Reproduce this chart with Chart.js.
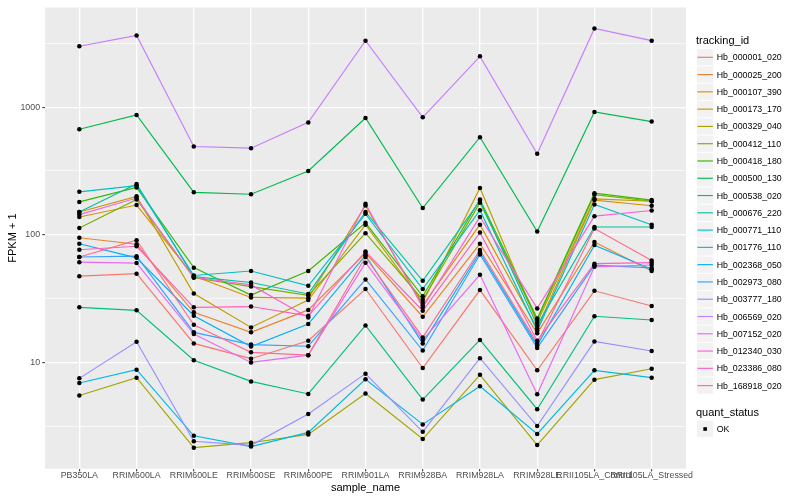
<!DOCTYPE html>
<html><head><meta charset="utf-8">
<script src="https://cdn.jsdelivr.net/npm/chart.js@4/dist/chart.umd.min.js"></script>
<style>
html,body{margin:0;padding:0;background:#fff;}
#wrap{position:relative;width:800px;height:500px;font-family:"Liberation Sans",Arial,sans-serif;overflow:hidden;}
canvas{position:absolute;left:0;top:0;}
#keys{position:absolute;left:0;top:0;}
.lg-title{position:absolute;font-size:11px;color:#000;line-height:13px;white-space:nowrap;}
.lg-label{position:absolute;font-size:8.8px;color:#000;line-height:10px;white-space:nowrap;}
</style></head>
<body><div id="wrap"><canvas id="c" width="800" height="500"></canvas>
<svg id="keys" width="800" height="500" xmlns="http://www.w3.org/2000/svg"></svg>
<div id="legend"></div></div>
<script>
// ---- data ----
const categories = ['PB350LA','RRIM600LA','RRIM600LE','RRIM600SE','RRIM600PE','RRIM901LA','RRIM928BA','RRIM928LA','RRIM928LE','RRII105LA_Control','RRII105LA_Stressed'];
const trackingIds = ['Hb_000001_020','Hb_000025_200','Hb_000107_390','Hb_000173_170','Hb_000329_040','Hb_000412_110','Hb_000418_180','Hb_000500_130','Hb_000538_020','Hb_000676_220','Hb_000771_110','Hb_001776_110','Hb_002368_050','Hb_002973_080','Hb_003777_180','Hb_006569_020','Hb_007152_020','Hb_012340_030','Hb_023386_080','Hb_168918_020'];
const Hb_000001_020 = [47.4, 49.6, 14.1, 10.7, 14.8, 37.6, 9.03, 36.9, 8.67, 36.4, 27.7];
const Hb_000025_200 = [94.8, 84.3, 24.7, 17.2, 25.8, 72, 22.8, 85, 16.9, 88, 52];
const Hb_000107_390 = [138, 171, 47.5, 32.3, 31.9, 170, 28, 120, 18.5, 187, 169];
const Hb_000173_170 = [151, 200, 34.7, 18.8, 30.8, 120, 29.5, 233, 20.5, 191, 183];
const Hb_000329_040 = [5.5, 7.6, 2.15, 2.35, 2.73, 5.7, 2.51, 8.0, 2.25, 7.33, 8.93];
const Hb_000412_110 = [113, 189, 46, 39.3, 33.5, 103, 31, 178, 21.5, 206, 183];
const Hb_000418_180 = [181, 235, 55.3, 33.7, 52, 124, 33, 189, 22.1, 212, 187];
const Hb_000500_130 = [671, 869, 215, 208, 316, 823, 162, 582, 106, 917, 771];
const Hb_000538_020 = [27, 25.6, 10.4, 7.1, 5.66, 19.5, 5.12, 15, 4.3, 23, 21.5];
const Hb_000676_220 = [151, 250, 47, 42.3, 34.4, 151, 43.6, 185, 19.5, 115, 115];
const Hb_000771_110 = [217, 243, 48, 52, 39.8, 146, 37.6, 156, 17.7, 173, 120];
const Hb_001776_110 = [6.9, 8.77, 2.66, 2.19, 2.83, 7.37, 3.27, 6.5, 2.75, 8.67, 7.6];
const Hb_002368_050 = [85, 66, 23.2, 13.3, 20, 69, 14.1, 73, 13.6, 83, 53.7];
const Hb_002973_080 = [67, 68, 17.2, 13.8, 13.4, 44.7, 12.4, 70, 13, 57.8, 55];
const Hb_003777_180 = [7.5, 14.5, 2.41, 2.24, 3.95, 8.17, 2.86, 10.8, 3.17, 14.6, 12.3];
const Hb_006569_020 = [3000, 3650, 492, 477, 760, 3320, 832, 2500, 432, 4140, 3320];
const Hb_007152_020 = [61, 60, 16.7, 10, 11.4, 60.5, 15, 48.6, 5.63, 56.1, 58];
const Hb_012340_030 = [144, 194, 46.5, 40.5, 22.5, 175, 27, 138, 26.5, 140, 155];
const Hb_023386_080 = [76.4, 81.3, 27, 27.4, 23.2, 74, 25.4, 104, 14.8, 59.4, 60.5];
const Hb_168918_020 = [67, 90.6, 19.7, 12, 11.4, 67, 15.7, 76, 14.2, 112, 63];
const seriesValues = [Hb_000001_020,Hb_000025_200,Hb_000107_390,Hb_000173_170,Hb_000329_040,Hb_000412_110,Hb_000418_180,Hb_000500_130,Hb_000538_020,Hb_000676_220,Hb_000771_110,Hb_001776_110,Hb_002368_050,Hb_002973_080,Hb_003777_180,Hb_006569_020,Hb_007152_020,Hb_012340_030,Hb_023386_080,Hb_168918_020];
const quantStatus = ['OK'];
const yTickValues = [10, 100, 1000];
const yTickLabels = ['10', '100', '1000'];
const yMinorBreaks = [3.1623, 31.623, 316.23, 3162.3];

// ---- styles ----
const palette = ['#F8766D','#EA8331','#D89000','#C09B00','#A3A500','#7CAE00','#39B600','#00BB4E','#00BF7D','#00C1A3','#00BFC4','#00BAE0','#00B0F6','#35A2FF','#9590FF','#C77CFF','#E76BF3','#FA62DB','#FF62BC','#FF6C91'];
const FONT = '"Liberation Sans", Arial, sans-serif';

const toPts = arr => arr.map((v, j) => ({x: j, y: v}));
const lineSets = trackingIds.map((id, i) => ({
  label: id, data: toPts(seriesValues[i]), borderColor: palette[i], backgroundColor: palette[i],
  borderWidth: 1.15, pointRadius: 0, pointHoverRadius: 0, fill: false, tension: 0, order: 100 - i
}));
const pointSets = trackingIds.map((id, i) => ({
  label: id + ' ' + quantStatus[0], data: toPts(seriesValues[i]), showLine: false,
  pointRadius: 2.25, pointHoverRadius: 2.25, pointBackgroundColor: '#000', pointBorderWidth: 0,
  borderColor: '#000', order: 0
}));
const isMajor = v => yTickValues.includes(v);
const allBreaks = [...yMinorBreaks, ...yTickValues].sort((a, b) => a - b);

const panelBg = {id: 'panelBg', beforeDraw(chart) {
  const {ctx, chartArea: a} = chart;
  ctx.save(); ctx.fillStyle = '#EBEBEB';
  ctx.fillRect(a.left, a.top, a.right - a.left, a.bottom - a.top); ctx.restore();
}};

new Chart(document.getElementById('c'), {
  type: 'line',
  data: {datasets: [...pointSets, ...lineSets]},
  plugins: [panelBg],
  options: {
    responsive: false, animation: false, devicePixelRatio: 1,
    layout: {padding: {left: 0, top: 5.3, right: 114, bottom: 0}},
    plugins: {legend: {display: false}, tooltip: {enabled: false}},
    events: [],
    scales: {
      x: {
        type: 'linear', min: -0.6, max: 10.6,
        afterBuildTicks: s => { s.ticks = categories.map((c, i) => ({value: i})); },
        afterFit: s => { s.height = 31.3; },
        ticks: {autoSkip: false, maxRotation: 0, minRotation: 0, color: '#4D4D4D',
          font: {size: 8.8, family: FONT}, padding: -1,
          callback: v => categories[v]},
        grid: {color: '#FFFFFF', lineWidth: 1.3, tickColor: '#333333', tickLength: 2.75, tickWidth: 1},
        border: {display: false},
        title: {display: true, text: 'sample_name', color: '#000', font: {size: 11, family: FONT}, padding: {top: 0, bottom: 5.6}}
      },
      y: {
        type: 'logarithmic', min: 1.47, max: 6040,
        afterBuildTicks: s => { s.ticks = allBreaks.map(v => ({value: v})); },
        afterFit: s => { s.width = 45; },
        ticks: {autoSkip: false, color: '#4D4D4D', font: {size: 8.8, family: FONT}, padding: 2.2,
          callback: v => { const k = yTickValues.indexOf(v); return k >= 0 ? yTickLabels[k] : ''; }},
        grid: {color: '#FFFFFF',
          lineWidth: c => (c.tick && isMajor(c.tick.value)) ? 1.3 : 0.65,
          tickColor: c => (c.tick && isMajor(c.tick.value)) ? '#333333' : 'rgba(0,0,0,0)',
          tickLength: 2.75, tickWidth: 1},
        border: {display: false},
        title: {display: true, text: 'FPKM + 1', color: '#000', font: {size: 11, family: FONT}, padding: {top: 6.4, bottom: 0}}
      }
    }
  }
});

// ---- legend (HTML text + SVG keys) ----
const NS = 'http://www.w3.org/2000/svg';
const svg = document.getElementById('keys');
const lg = document.getElementById('legend');
function txt(cls, left, top, s) {
  const d = document.createElement('div'); d.className = cls;
  d.style.left = left + 'px'; d.style.top = top + 'px'; d.textContent = s;
  lg.appendChild(d);
}
function el(name, attrs) {
  const e = document.createElementNS(NS, name);
  for (const k in attrs) e.setAttribute(k, attrs[k]);
  svg.appendChild(e); return e;
}
const keyX = 696.5, keyW = 17.28, rowH = 17.28, row0 = 57.3;
txt('lg-title', 696, 34.2, 'tracking_id');
trackingIds.forEach((id, i) => {
  const cy = row0 + i * rowH;
  el('rect', {x: keyX + 0.5, y: cy - keyW / 2 + 0.5, width: keyW - 1, height: keyW - 1, fill: '#F2F2F2'});
  el('line', {x1: keyX + 0.9, x2: keyX + keyW - 0.9, y1: cy, y2: cy, stroke: palette[i], 'stroke-width': 1.15});
  txt('lg-label', 716.7, cy - 5, id);
});
txt('lg-title', 696, 406.2, 'quant_status');
const okY = 429;
el('rect', {x: keyX + 0.5, y: okY - keyW / 2 + 0.5, width: keyW - 1, height: keyW - 1, fill: '#F2F2F2'});
el('rect', {x: keyX + keyW / 2 - 1.8, y: okY - 1.8, width: 3.6, height: 3.6, fill: '#000'});
txt('lg-label', 716.7, okY - 5, quantStatus[0]);
</script>
</body></html>
